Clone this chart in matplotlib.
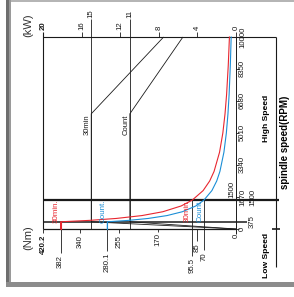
import matplotlib
matplotlib.use('Agg')
import matplotlib.pyplot as plt
from matplotlib.patches import Rectangle

plt.rcParams['font.family'] = ['Liberation Sans', 'DejaVu Sans']

# ---------------- data ----------------
torque_max = 420.2          # Nm at left edge
power_max = 20.0            # kW at left edge
speed_max = 10000           # rpm at top

power_ticks = [20, 16, 15, 12, 11, 8, 4, 0]
power_long = [15, 11]
torque_ticks = [420.2, 382, 340, 280.1, 255, 170, 95.5, 85, 70, 0]
torque_labels = ['420.2', '382', '340', '280.1', '255', '170', '95.5', '85', '70', '0']
speed_ticks = [10000, 8350, 6680, 5010, 3340, 1670, 0]
low_speed_ticks = [1500, 375]
base_low = 375
base_high = 1500

# power curves (kW) vs speed (rpm)
power_speeds = [0, 375, 6000, 10000]
power_30min = [0, 15, 15, 7.5]
power_cont = [0, 11, 11, 5.5]

# torque curves (Nm) vs speed (rpm)
torque_speeds = [0, 375, 450, 550, 700, 900, 1200, 1500, 2000, 2500, 3000,
                 4000, 5000, 6000, 7000, 8500, 10000]
torque_30min = [382, 382, 318.3, 260.5, 204.6, 159.2, 119.4, 95.5, 71.6, 57.3,
                47.75, 35.8, 28.65, 23.9, 20.5, 16.9, 14.3]
torque_cont = [280.1, 280.1, 233.4, 191.0, 150.1, 116.7, 87.5, 70.0, 52.5, 42.0,
               35.0, 26.3, 21.0, 17.5, 15.0, 12.4, 10.5]

# ---------------- layout ----------------
W, H = 294, 297
L, R, T, B = 43, 236, 37, 229      # plot box in pixels
RED = '#e8262f'
BLUE = '#1b8ed6'
K = '#1a1a1a'

fig = plt.figure(figsize=(W / 100, H / 100), dpi=100)
fig.patch.set_facecolor('white')

bg = fig.add_axes([0, 0, 1, 1], zorder=0)
bg.set_xlim(0, W)
bg.set_ylim(H, 0)
bg.axis('off')

ax = fig.add_axes([L / W, (H - B) / H, (R - L) / W, (B - T) / H], zorder=1)
ax.set_xlim(torque_max, 0)
ax.set_ylim(0, speed_max)
ax.axis('off')
ax.patch.set_alpha(0)

sx = torque_max / (R - L)   # Nm per pixel (positive = leftward)
sy = speed_max / (B - T)    # rpm per pixel (positive = upward)
kw2nm = torque_max / power_max


def line(xs, ys, **kw):
    kw.setdefault('color', K)
    kw.setdefault('lw', 0.6)
    ax.plot(xs, ys, clip_on=False, solid_capstyle='butt', **kw)


def rtext(x, y, s, **kw):
    kw.setdefault('fontsize', 5.6)
    kw.setdefault('color', K)
    ax.text(x, y, s, rotation=90, clip_on=False, **kw)


# frame decoration
bg.add_patch(Rectangle((6, 0), W - 6, 1.5, color='#b5b5b5', lw=0))
bg.add_patch(Rectangle((6, 0), 5, 287, color='#6e6e6e', lw=0))
bg.add_patch(Rectangle((9, 0), 2, 287, color='#9a9a9a', lw=0))
bg.add_patch(Rectangle((6, 282), W - 6, 5, color='#8c8c8c', lw=0))

# axes lines
line([torque_max, -40 * sx], [speed_max, speed_max], lw=0.8)           # kW axis
line([torque_max, torque_max], [0, speed_max + 5 * sy], lw=0.8)        # left
line([torque_max, 0], [0, 0], lw=0.9)                                   # Nm axis
line([0, 0], [speed_max, -5 * sy], lw=0.7)                             # speed axis
line([torque_max, -43 * sx], [base_high, base_high], lw=1.6)          # 1500 line
line([torque_max, -11 * sx], [base_low, base_low], lw=1.1)            # 375 line

# right bracket
line([-40 * sx, -40 * sx], [speed_max, -38 * sy], lw=0.8)
line([-36 * sx, -44 * sx], [0, 0], lw=1.2)

# power axis ticks
for p in power_ticks:
    x = p * kw2nm
    if p in power_long:
        line([x, x], [0, speed_max + 18 * sy], lw=0.6)
        rtext(x, speed_max + 19 * sy, str(p), ha='center', va='bottom')
    else:
        if p != 20:
            line([x, x], [speed_max, speed_max + 5 * sy], lw=0.6)
        rtext(x, speed_max + 7 * sy, str(p), ha='center', va='bottom',
              fontweight='bold' if p == 20 else 'normal')

# power curves
line([p * kw2nm for p in power_30min], power_speeds, lw=0.6)
line([p * kw2nm for p in power_cont], power_speeds, lw=0.6)

# torque curves
ax.plot(torque_30min, torque_speeds, color=RED, lw=0.8, clip_on=False, zorder=3)
ax.plot(torque_cont, torque_speeds, color=BLUE, lw=0.8, clip_on=False, zorder=3)

# torque axis ticks & labels  (tick start speed, tick end px, label top px)
torque_tick_spec = {
    420.2: (0, -4, -6),
    382: (0, -24, -26),
    340: (0, -4, -6),
    280.1: (0, -22, -24),
    255: (0, -4, -6),
    170: (0, -3, -4),
    95.5: (base_high, -27, -29),
    85: (0, -12, -14),
    70: (base_high, -21, -23),
    0: (0, -4, -5),
}
for t, lab in zip(torque_ticks, torque_labels):
    y0, yend, ylab = torque_tick_spec[t]
    if t != 0:
        line([t, t], [y0, yend * sy], lw=0.6)
    rtext(t, ylab * sy, lab, ha='center', va='top',
          fontweight='bold' if t == torque_max else 'normal')

# colored low-speed vertical pieces
ax.plot([torque_30min[0]] * 2, [0, base_low], color=RED, lw=0.8, clip_on=False, zorder=4)
ax.plot([torque_cont[0]] * 2, [0, base_low], color=BLUE, lw=0.8, clip_on=False, zorder=4)

# speed ticks & labels
for n in speed_ticks:
    line([0, -3 * sx], [n, n], lw=0.6)
    rtext(-6.5 * sx, n, str(n), ha='center', va='center')
for n in low_speed_ticks:
    yy = n + 3 * sy if n == base_high else n
    rtext(-16.5 * sx, yy, str(n), ha='center', va='center')
rtext(4.5 * sx, base_high + 2 * sy, '1500', ha='center', va='bottom')

# curve labels
rtext(15 * kw2nm + 0.7 * sx, 6000 - 1 * sy, '30min', ha='right', va='top', fontsize=5.5)
rtext(11 * kw2nm + 0.7 * sx, 6000 - 1 * sy, 'Count', ha='right', va='top', fontsize=5.5)
mid = (base_low + base_high) / 2
rtext(torque_30min[0] + 1 * sx, mid, '30min.', ha='right', va='center', color=RED, fontsize=5.8)
rtext(torque_cont[0] + 1 * sx, mid, 'Count.', ha='right', va='center', color=BLUE, fontsize=5.8)
rtext(95.5 + 1 * sx, mid, '30min', ha='right', va='center', color=RED, fontsize=5.8)
rtext(70 + 0.5 * sx, mid, 'Count', ha='right', va='center', color=BLUE, fontsize=5.8)

# unit & axis titles
fig.text(28 / W, 1 - 25 / H, '(kW)', rotation=90, ha='center', va='center', fontsize=8, color='#333333')
fig.text(28 / W, 1 - 238 / H, '(Nm)', rotation=90, ha='center', va='center', fontsize=8, color='#333333')
fig.text(266 / W, 1 - 118 / H, 'High Speed', rotation=90, ha='center', va='center',
         fontsize=6.1, fontweight='bold')
fig.text(266 / W, 1 - 255 / H, 'Low Speed', rotation=90, ha='center', va='center',
         fontsize=6.1, fontweight='bold')
fig.text(285 / W, 1 - 142 / H, 'spindle speed(RPM)', rotation=90, ha='center', va='center',
         fontsize=7, fontweight='bold')

fig.savefig('out.png', dpi=100, facecolor='white')
